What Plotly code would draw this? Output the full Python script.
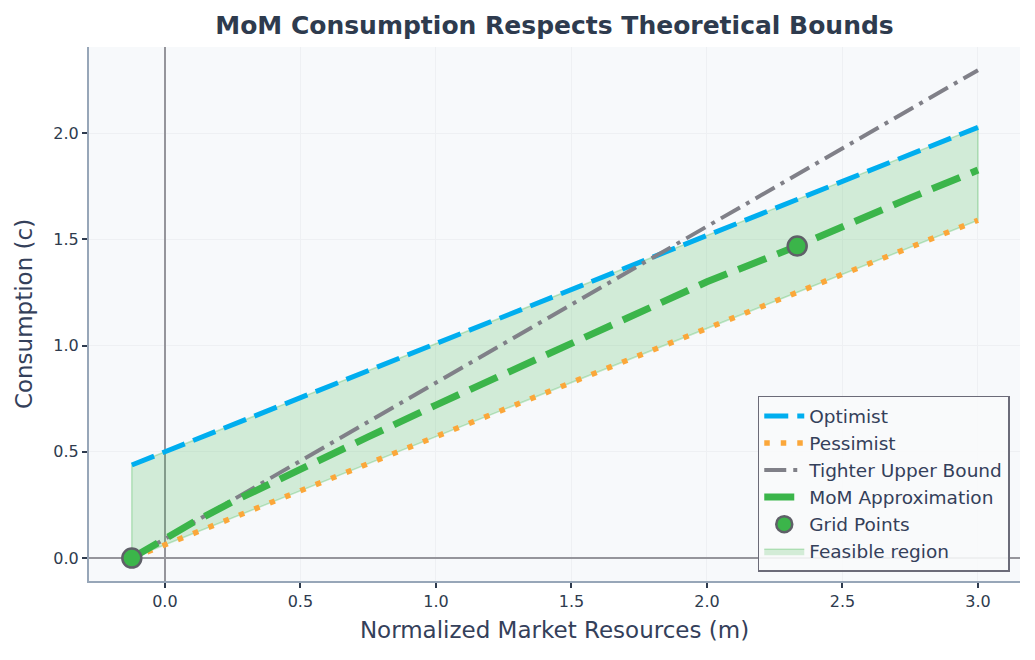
import plotly.graph_objects as go

# Bound lines (linear) endpoints
m_bounds = [-0.122, 3.0]
optimist = [0.438, 2.027]
pessimist = [0.0, 1.59]
tighter = [0.0, 2.296]

# MoM approximation curve
m_mom = [-0.122, 0.0, 0.1, 0.25, 0.5, 0.75, 1.0, 1.25, 1.5, 1.75, 2.0, 2.333, 2.5, 2.75, 3.0]
c_mom = [0.0, 0.09, 0.165, 0.265, 0.42, 0.57, 0.72, 0.865, 1.01, 1.15, 1.30, 1.468, 1.56, 1.695, 1.826]

# Grid points
m_grid = [-0.122, 2.333]
c_grid = [0.0, 1.468]

BLUE = "#00AEEF"
ORANGE = "#FBA73A"
GRAY = "#808088"
GREEN = "#3BB54A"
TXT = "#2E3B4E"

fig = go.Figure()

# Feasible region polygon
poly_x = m_bounds + m_bounds[::-1] + [m_bounds[0]]
poly_y = pessimist + optimist[::-1] + [pessimist[0]]
fig.add_trace(go.Scatter(
    x=poly_x, y=poly_y, mode="lines", fill="toself",
    fillcolor="rgba(59,181,74,0.2)", line=dict(color="rgba(59,181,74,0.3)", width=1.5),
    name="Feasible region", legendrank=6, hoverinfo="skip"))

fig.add_trace(go.Scatter(x=m_bounds, y=optimist, mode="lines", name="Optimist",
                         line=dict(color=BLUE, width=5, dash="24px,9px"), legendrank=1))
fig.add_trace(go.Scatter(x=m_bounds, y=pessimist, mode="lines", name="Pessimist",
                         line=dict(color=ORANGE, width=5.5, dash="5.5px,11px"), legendrank=2))
fig.add_trace(go.Scatter(x=m_bounds, y=tighter, mode="lines", name="Tighter Upper Bound",
                         line=dict(color=GRAY, width=4, dash="22px,7px,4px,7px"), legendrank=3))
fig.add_trace(go.Scatter(x=m_mom, y=c_mom, mode="lines", name="MoM Approximation",
                         line=dict(color=GREEN, width=7, dash="30px,12px"), legendrank=4))
fig.add_trace(go.Scatter(x=m_grid, y=c_grid, mode="markers", name="Grid Points",
                         marker=dict(color=GREEN, size=19, line=dict(color="#5F6068", width=2.5)),
                         legendrank=5))

axis_common = dict(
    showline=True, linecolor="#97A6B8", linewidth=2, mirror=False,
    ticks="outside", ticklen=5, tickwidth=1.5, tickcolor=TXT,
    tickfont=dict(family="DejaVu Sans", size=16, color=TXT),
    showgrid=True, gridcolor="#EEF0F3", gridwidth=1,
    zeroline=True, zerolinecolor="#95959B", zerolinewidth=1.5,
    tickformat=".1f",
)

fig.update_layout(
    width=1035, height=660,
    margin=dict(l=89, r=15, t=47, b=79),
    paper_bgcolor="white", plot_bgcolor="#F7F9FB",
    font=dict(family="DejaVu Sans", color=TXT),
    title=dict(text="<b>MoM Consumption Respects Theoretical Bounds</b>",
               x=0.5, xref="paper", xanchor="center", y=0.962, yref="container", yanchor="middle",
               font=dict(family="DejaVu Sans", size=25, color=TXT)),
    xaxis=dict(range=[-0.28, 3.155], dtick=0.5, tick0=0,
               title=dict(text="Normalized Market Resources (m)", font=dict(size=23, color="#34405A"), standoff=12),
               **axis_common),
    yaxis=dict(range=[-0.108, 2.405], dtick=0.5, tick0=0,
               title=dict(text="Consumption (c)", font=dict(size=23, color="#34405A"), standoff=14),
               **axis_common),
    legend=dict(x=0.989, y=0.017, xanchor="right", yanchor="bottom",
                bgcolor="rgba(248,249,251,0.9)", bordercolor="#6B6B78", borderwidth=1.5,
                font=dict(family="DejaVu Sans", size=18.5, color="#34405A"),
                itemwidth=40, tracegroupgap=0),
    showlegend=True,
)

fig.write_html("out.html")
